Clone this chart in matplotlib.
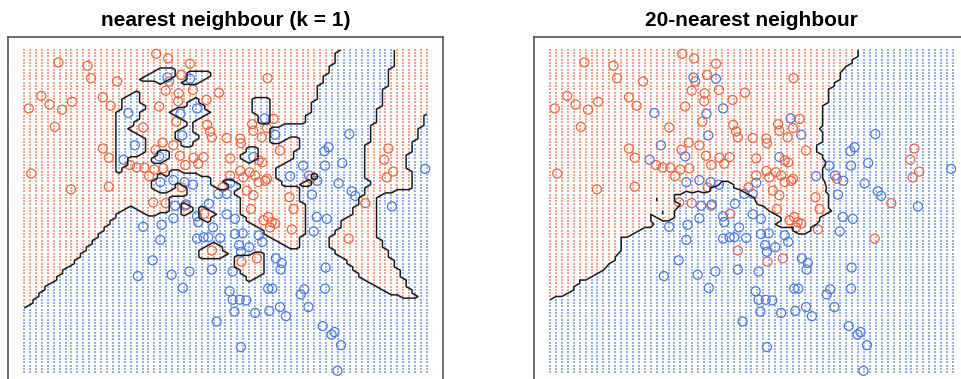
#k-nearest-neighbour decision regions on the two-class mixture data
import matplotlib.pyplot as plt
import numpy as np

# orange class (x1, x2)
orange_x1 = [-2.02, -1.53, -1.47, -1.03, -2.31, -2.17, -1.79, -1.27, -2.52, -1.96,
             -1.14, -2.08, -1.27, -1.17, -2.48, -1.81, -1.17, -0.37, -0.17, 0.20,
             0.05, -0.15, -0.21, 0.01, 0.25, 0.69, 0.00, 0.48, -0.32, -0.03,
             -0.59, 0.49, 0.54, 0.57, 0.82, -0.26, -0.08, -0.38, 0.03, 0.26,
             0.43, 0.12, 0.34, -0.81, -0.70, -0.57, -0.49, -0.40, -0.25, 0.06,
             0.75, -0.21, -0.42, 0.12, 0.44, 0.57, 1.07, 1.33, 1.61, 1.50,
             1.25, 1.27, 1.41, 1.05, 1.06, 1.72, 0.88, 1.36, 1.42, 2.24,
             1.05, 1.21, 1.30, 1.50, 1.10, 0.88, 1.51, 3.55, 3.48, 3.63,
             3.52, 1.88, 3.16, 1.36, 1.47, 1.95, 1.92, 1.52, 1.44, 1.58,
             1.55, 1.64, 2.88, 1.23, 1.16, 1.27]
orange_x2 = [2.71, 2.66, 2.47, 2.42, 2.20, 2.07, 2.11, 2.18, 2.01, 1.99,
             2.05, 1.73, 1.40, 1.26, 1.02, 0.78, 0.82, 2.84, 2.77, 2.69,
             2.52, 2.42, 2.28, 2.24, 2.29, 2.25, 2.12, 2.14, 2.04, 1.81,
             1.72, 1.76, 1.66, 1.57, 1.56, 1.49, 1.45, 1.38, 1.29, 1.26,
             1.27, 1.15, 1.17, 1.15, 1.11, 1.11, 0.98, 1.08, 1.10, 0.81,
             0.81, 0.57, 0.58, 0.53, 0.41, -0.15, -0.32, -0.27, 1.85, 1.71,
             1.77, 1.67, 1.57, 1.55, 1.48, 1.37, 1.25, 1.22, 1.19, 0.94,
             1.06, 1.04, 0.99, 0.94, 0.96, 0.99, 2.47, 1.40, 1.23, 1.05,
             0.96, 0.66, 0.57, 0.89, 0.91, 0.48, 0.17, 0.36, 0.31, 0.28,
             0.20, 0.26, 0.03, 0.48, 0.76, 0.69]

# blue class (x1, x2)
blue_x1 = [-0.18, 0.20, -0.84, 0.04, 0.32, 0.07, -0.73, -0.32, -0.92, -0.30,
           -0.08, 0.11, 0.25, 0.68, 0.82, 0.52, 1.46, 1.64, 1.27, 2.54,
           2.47, 2.11, 2.48, 2.77, 1.89, 2.21, 0.88, 2.89, 4.17, 2.35,
           2.71, 2.93, 2.99, 2.26, 3.61, 2.34, 2.51, 2.29, 1.36, 1.42,
           1.65, 0.82, 0.96, 0.96, 1.09, 1.03, 1.20, 1.06, 0.92, 1.75,
           1.73, 2.49, 0.87, 0.92, 1.04, 1.15, 1.52, 1.59, 2.13, 2.07,
           2.48, 0.95, 1.30, 1.54, 1.72, 1.82, 2.20, 2.44, 2.59, 2.64,
           2.75, 1.06, 2.69, -0.43, -0.11, 0.19, 0.08, 0.57, 0.65, -0.68,
           -0.59, -0.30, -0.08, -0.05, 0.13, 0.32, 0.34, 0.59, -0.28, 0.32,
           0.43, 0.51, 0.71]
blue_x2 = [2.48, 2.46, 1.94, 1.93, 2.01, 1.60, 1.45, 1.28, 1.23, 0.89,
           0.92, 0.89, 0.85, 0.71, 0.71, 0.56, 1.86, 1.61, 1.27, 1.42,
           1.36, 1.14, 1.14, 1.18, 0.98, 0.99, 0.88, 1.62, 1.09, 0.91,
           0.87, 0.75, 0.68, 0.70, 0.52, 0.36, 0.33, 0.14, 0.08, -0.02,
           -0.27, 0.40, 0.33, 0.10, 0.11, -0.07, -0.10, -0.17, -0.47, -0.34,
           -0.44, -0.41, -0.77, -0.90, -0.90, -0.91, -0.73, -0.73, -0.74, -0.82,
           -0.73, -1.08, -1.10, -1.07, -1.01, -1.15, -1.01, -1.30, -1.43, -1.39,
           -1.59, -1.62, -1.98, -0.30, -0.52, -0.47, -0.72, -0.44, -1.23, -0.54,
           0.21, 0.01, 0.34, 0.53, 0.55, 0.37, 0.28, 0.20, 0.24, 0.03,
           0.05, 0.05, 0.04]

ORANGE = "#F5643C"
BLUE = "#4C7AE6"

X = np.column_stack([np.r_[orange_x1, blue_x1], np.r_[orange_x2, blue_x2]])
cls = np.r_[np.ones(len(orange_x1)), np.zeros(len(blue_x1))]

# prediction grid
gx, gy = np.meshgrid(np.linspace(-2.6, 4.2, 69), np.linspace(-2.0, 2.9, 99))
G = np.column_stack([gx.ravel(), gy.ravel()])
dist = ((G[:, None, :] - X[None, :, :]) ** 2).sum(-1)
order = np.argsort(dist, axis=1)

fig = plt.figure(figsize=(9.61, 3.79), dpi=100)
axes = [fig.add_axes([8 / 961, -6 / 379, 435 / 961, 348 / 379]),
        fig.add_axes([534 / 961, -6 / 379, 435 / 961, 348 / 379])]

for ax, k, title in zip(axes, [1, 20], ["nearest neighbour (k = 1)", "20-nearest neighbour"]):
    prob = cls[order[:, :k]].mean(axis=1).reshape(gx.shape)
    is_orange = prob > 0.5
    ax.scatter(gx[is_orange], gy[is_orange], s=1.1, marker="s", c=ORANGE, linewidths=0, alpha=0.6)
    ax.scatter(gx[~is_orange], gy[~is_orange], s=1.1, marker="s", c=BLUE, linewidths=0, alpha=0.6)
    ax.contour(gx, gy, prob, levels=[0.5], colors="#1a1a1a", linewidths=1.1)
    ax.scatter(orange_x1, orange_x2, s=42, facecolors="none", edgecolors=ORANGE, linewidths=0.9)
    ax.scatter(blue_x1, blue_x2, s=42, facecolors="none", edgecolors=BLUE, linewidths=0.9)
    ax.set_xlim(-2.872, 4.472)
    ax.set_ylim(-2.196, 3.096)
    ax.set_xticks([])
    ax.set_yticks([])
    for sp in ax.spines.values():
        sp.set_color("#555555")
        sp.set_linewidth(1.2)
    ax.set_title(title, fontsize=15, fontweight="bold", family="Liberation Sans", pad=8)

fig.savefig("out.png", dpi=100)
